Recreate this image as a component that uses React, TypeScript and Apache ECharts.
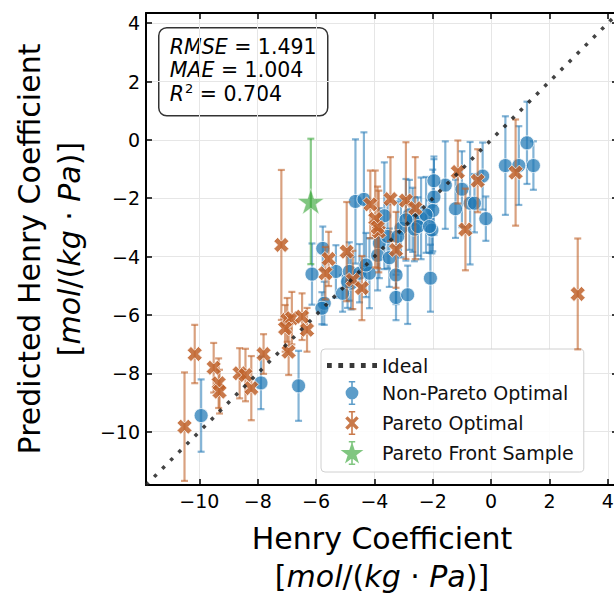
import React, { useEffect, useRef } from 'react';
import * as echarts from 'echarts';

// ---------- data ----------
const nonParetoX = [1.23, 0.49, 0.95, 1.45, -1.57, -1.96, -1.0, -0.29, -1.22, -0.72, -0.57, -0.18, -1.96, -2.0, -2.03, -2.08, -4.65, -4.36, -3.66, -2.8, -2.69, -2.4, -2.23, -3.09, -2.63, -3.83, -3.89, -3.49, -5.77, -6.14, -5.32, -4.86, -4.8, -4.51, -4.17, -4.29, -3.26, -3.26, -2.86, -5.09, -5.72, -5.8, -9.94, -7.89, -6.6, -3.55, -3.2, -2.92, -2.51, -2.11, -4.92];
const nonParetoY = [-0.1, -0.88, -0.88, -0.88, -1.55, -1.4, -1.69, -1.24, -2.36, -2.17, -2.17, -2.7, -1.96, -2.42, -3.09, -4.74, -2.11, -2.04, -2.6, -2.57, -2.74, -2.69, -2.57, -3.03, -3.06, -3.54, -3.96, -4.04, -3.72, -4.6, -4.51, -4.51, -4.91, -4.57, -4.57, -4.29, -4.63, -5.4, -5.31, -5.26, -5.6, -5.77, -9.45, -8.33, -8.43, -3.31, -3.31, -2.74, -2.97, -2.97, -4.86];
const nonParetoErr = [1.41, 1.69, 1.35, 0.83, 1.5, 0.83, 1.3, 1.15, 1.0, 2.1, 1.0, 0.76, 1.3, 1.4, 0.8, 1.15, 2.13, 2.3, 1.83, 1.2, 1.1, 1.4, 1.3, 1.0, 1.1, 1.2, 1.2, 1.0, 0.75, 1.05, 0.9, 1.0, 0.9, 1.0, 1.2, 1.1, 1.0, 0.78, 1.0, 0.63, 0.74, 0.55, 1.24, 0.9, 1.2, 1.1, 1.2, 1.4, 1.0, 0.9, 0.9];

const paretoX = [-10.51, -10.16, -9.51, -9.34, -9.31, -8.62, -8.42, -8.22, -7.8, -7.19, -6.99, -6.83, -7.06, -6.48, -6.31, -6.94, -4.95, -5.57, -5.68, -3.26, -4.74, -4.43, -3.85, -4.14, -3.45, -2.92, -2.6, -3.97, -3.89, -1.14, -0.46, -0.88, 0.84, 2.97];
const paretoY = [-9.83, -7.34, -7.81, -8.34, -8.63, -8.0, -8.06, -8.51, -7.34, -3.6, -6.17, -6.11, -6.46, -6.06, -6.51, -7.26, -3.83, -4.08, -4.57, -3.77, -4.8, -5.08, -3.14, -2.21, -2.03, -2.08, -2.34, -2.71, -3.0, -1.1, -1.4, -3.07, -1.12, -5.28];
const paretoErr = [1.86, 1.0, 0.85, 0.85, 0.75, 0.86, 0.9, 1.1, 0.68, 2.57, 0.75, 0.9, 0.8, 0.8, 0.75, 0.8, 1.7, 0.93, 0.9, 1.3, 1.0, 1.1, 1.4, 1.16, 1.44, 2.0, 1.75, 1.66, 1.4, 1.08, 1.08, 1.4, 1.82, 1.9];

const sampleX = [-6.18];
const sampleY = [-2.11];
const sampleErr = [2.15];

const axisMin = -11.83;
const axisMax = 4.35;
const idealX = [axisMin, axisMax];

const statNames = ['RMSE', 'MAE', 'R'];
const statValues = ['1.491', '1.004', '0.704'];

const seriesNames = ['Ideal', 'Non-Pareto Optimal', 'Pareto Optimal', 'Pareto Front Sample'];

// ---------- style ----------
const FONT = "'DejaVu Sans', sans-serif";
const BLUE = '#1f77b4';
const ORANGE = '#c0622a';
const GREEN = '#2ca02c';

const X_PATH = 'path://M2.5 0L5 2.5L7.5 0L10 2.5L7.5 5L10 7.5L7.5 10L5 7.5L2.5 10L0 7.5L2.5 5L0 2.5Z';
const STAR_PATH = 'path://M50 0L61.17 34.63L97.55 34.55L68.07 55.87L79.39 90.45L50 69L20.61 90.45L31.93 55.87L2.45 34.55L38.83 34.63Z';

const IDEAL_ICON = 'path://M0 0H4V4H0Z M9.5 0H13.5V4H9.5Z M19 0H23V4H19Z M28.5 0H32.5V4H28.5Z M38 0H42V4H38Z';
const BLUE_ICON = 'path://M9 2H11V28H9Z M6 0H14V2H6Z M6 28H14V30H6Z M2 15a8 8 0 1 1 16 0a8 8 0 1 1 -16 0Z';
const ORANGE_ICON = 'path://M9 2H11V28H9Z M6 0H14V2H6Z M6 28H14V30H6Z M4.5 6.5L10 12L15.5 6.5L18.5 9.5L13 15L18.5 20.5L15.5 23.5L10 18L4.5 23.5L1.5 20.5L7 15L1.5 9.5Z';
const GREEN_ICON = 'path://M14 2H16V28H14Z M11 0H19V2H11Z M11 28H19V30H11Z M15 1L18.35 11.39L29.27 11.37L20.42 17.76L23.82 28.14L15 21.7L6.18 28.14L9.58 17.76L0.73 11.37L11.65 11.39Z';

const fmt = (v: number) => {
  if (Math.abs(v - Math.round(v)) > 1e-6 || Math.round(v) % 2 !== 0) return '';
  const r = Math.round(v);
  return r < 0 ? '\u2212' + Math.abs(r) : String(r);
};

const errorBar = (color: string, opacity: number) => (params: any, api: any) => {
  const x = api.value(0);
  const y = api.value(1);
  const e = api.value(2);
  const p1 = api.coord([x, y + e]);
  const p2 = api.coord([x, y - e]);
  const cap = 3.5;
  const style = { stroke: color, lineWidth: 2.2, opacity };
  return {
    type: 'group',
    children: [
      { type: 'line', shape: { x1: p1[0], y1: p1[1], x2: p2[0], y2: p2[1] }, style },
      { type: 'line', shape: { x1: p1[0] - cap, y1: p1[1], x2: p1[0] + cap, y2: p1[1] }, style },
      { type: 'line', shape: { x1: p2[0] - cap, y1: p2[1], x2: p2[0] + cap, y2: p2[1] }, style },
    ],
  };
};

const richY = {
  t: { fontSize: 30, fontFamily: FONT, color: '#000', lineHeight: 40 },
  i: { fontSize: 30, fontFamily: FONT, fontStyle: 'italic', color: '#000', lineHeight: 40 },
};
const richX = {
  a: { fontSize: 30, fontFamily: FONT, color: '#000', lineHeight: 44 },
  t: { fontSize: 30, fontFamily: FONT, color: '#000', lineHeight: 32 },
  i: { fontSize: 30, fontFamily: FONT, fontStyle: 'italic', color: '#000', lineHeight: 32 },
};

export default function App() {
  const ref = useRef<HTMLDivElement>(null);

  useEffect(() => {
    if (!ref.current) return;
    const chart = echarts.init(ref.current, undefined, { renderer: 'svg' });

    const blueData = nonParetoX.map((x, i) => [x, nonParetoY[i], nonParetoErr[i]]);
    const orangeData = paretoX.map((x, i) => [x, paretoY[i], paretoErr[i]]);
    const greenData = sampleX.map((x, i) => [x, sampleY[i], sampleErr[i]]);
    const idealData = idealX.map((v) => [v, v]);

    const baseAxis = {
      type: 'value',
      min: axisMin,
      max: axisMax,
      splitNumber: 8,
      minInterval: 2,
      maxInterval: 2,
    };

    const statsText = statNames
      .map((n, i) => (n === 'R' ? `{i|R}{s|2}{n| = ${statValues[i]}}` : `{i|${n}}{n| = ${statValues[i]}}`))
      .join('\n');

    const option: any = {
      animation: false,
      backgroundColor: '#fff',
      grid: { left: 146, top: 13, width: 472, height: 472, containLabel: false, outerBoundsMode: 'none' },
      xAxis: [
        {
          ...baseAxis,
          position: 'bottom',
          axisLine: { show: true, onZero: false, lineStyle: { color: '#000', width: 2 } },
          axisTick: { show: true, inside: true, length: 6, lineStyle: { color: '#000', width: 1.5 } },
          axisLabel: { show: true, margin: 6, formatter: fmt, showMinLabel: false, showMaxLabel: false, fontSize: 19, fontFamily: FONT, color: '#000' },
          splitLine: { show: true, lineStyle: { color: '#e6e6e6', width: 1 } },
          name: '{a|Henry Coefficient}\n{t|[}{i|mol}{t|/(}{i|kg}{t| · }{i|Pa}{t|)]}',
          nameLocation: 'middle',
          nameGap: 31,
          nameTextStyle: { rich: richX, fontSize: 30, fontFamily: FONT },
        },
        {
          ...baseAxis,
          position: 'top',
          axisLine: { show: true, onZero: false, lineStyle: { color: '#000', width: 2 } },
          axisTick: { show: true, inside: true, length: 6, lineStyle: { color: '#000', width: 1.5 } },
          axisLabel: { show: false },
          splitLine: { show: false },
        },
      ],
      yAxis: [
        {
          ...baseAxis,
          position: 'left',
          axisLine: { show: true, onZero: false, lineStyle: { color: '#000', width: 2 } },
          axisTick: { show: true, inside: true, length: 6, lineStyle: { color: '#000', width: 1.5 } },
          axisLabel: { show: true, margin: 6, formatter: fmt, showMinLabel: false, showMaxLabel: false, fontSize: 19, fontFamily: FONT, color: '#000' },
          splitLine: { show: true, lineStyle: { color: '#e6e6e6', width: 1 } },
          name: '{t|Predicted Henry Coefficient}\n{t|[}{i|mol}{t|/(}{i|kg}{t| · }{i|Pa}{t|)]}',
          nameLocation: 'middle',
          nameGap: 54,
          nameTextStyle: { rich: richY, fontSize: 30, lineHeight: 40, fontFamily: FONT },
        },
        {
          ...baseAxis,
          position: 'right',
          axisLine: { show: true, onZero: false, lineStyle: { color: '#000', width: 2 } },
          axisTick: { show: true, inside: true, length: 6, lineStyle: { color: '#000', width: 1.5 } },
          axisLabel: { show: false },
          splitLine: { show: false },
        },
      ],
      legend: {
        orient: 'vertical',
        left: 321,
        top: 349,
        itemWidth: 50,
        itemHeight: 24,
        itemGap: 6,
        padding: [7, 10, 7, 6],
        backgroundColor: 'rgba(255,255,255,0.85)',
        borderColor: '#d0d0d0',
        borderWidth: 1,
        borderRadius: 4,
        selectedMode: false,
        itemStyle: { borderWidth: 0 },
        textStyle: { fontSize: 19, fontFamily: FONT, color: '#111' },
        data: [
          { name: seriesNames[0], icon: IDEAL_ICON, itemStyle: { color: '#222', opacity: 0.9, borderWidth: 0 } },
          { name: seriesNames[1], icon: BLUE_ICON },
          { name: seriesNames[2], icon: ORANGE_ICON },
          { name: seriesNames[3], icon: GREEN_ICON },
        ],
      },
      graphic: [
        {
          type: 'group',
          left: 158,
          top: 27,
          z: 100,
          children: [
            { type: 'rect', shape: { x: 0, y: 0, width: 169, height: 88, r: 8 }, style: { fill: '#fff', stroke: '#333', lineWidth: 1.5 } },
            {
              type: 'text',
              x: 11,
              y: 7,
              style: {
                text: statsText,
                fill: '#000',
                fontSize: 20.5,
                fontFamily: FONT,
                lineHeight: 23.5,
                rich: {
                  i: { fontSize: 20.5, fontFamily: FONT, fontStyle: 'italic', lineHeight: 23.5 },
                  n: { fontSize: 20.5, fontFamily: FONT, lineHeight: 23.5 },
                  s: { fontSize: 13, fontFamily: FONT, lineHeight: 23.5, verticalAlign: 'top', padding: [0, 0, 8, 1] },
                },
              },
            },
          ],
        },
      ],
      series: [
        {
          name: 'npErr',
          type: 'custom',
          renderItem: errorBar(BLUE, 0.55),
          data: blueData,
          encode: { x: 0, y: 1 },
          silent: true,
          z: 2,
        },
        {
          name: seriesNames[1],
          type: 'scatter',
          data: blueData.map((d) => [d[0], d[1]]),
          symbol: 'circle',
          symbolSize: 14,
          itemStyle: { color: BLUE, opacity: 0.72, borderColor: '#fff', borderWidth: 1 },
          z: 3,
        },
        {
          name: 'pErr',
          type: 'custom',
          renderItem: errorBar(ORANGE, 0.6),
          data: orangeData,
          encode: { x: 0, y: 1 },
          silent: true,
          z: 4,
        },
        {
          name: seriesNames[2],
          type: 'scatter',
          data: orangeData.map((d) => [d[0], d[1]]),
          symbol: X_PATH,
          symbolKeepAspect: true,
          symbolSize: 15,
          itemStyle: { color: ORANGE, opacity: 0.85, borderColor: '#fff', borderWidth: 0.8 },
          z: 5,
        },
        {
          name: 'sErr',
          type: 'custom',
          renderItem: errorBar(GREEN, 0.55),
          data: greenData,
          encode: { x: 0, y: 1 },
          silent: true,
          z: 6,
        },
        {
          name: seriesNames[3],
          type: 'scatter',
          data: greenData.map((d) => [d[0], d[1]]),
          symbol: STAR_PATH,
          symbolKeepAspect: true,
          symbolSize: 27,
          itemStyle: { color: GREEN, opacity: 0.6, borderColor: '#fff', borderWidth: 0.8 },
          z: 7,
        },
        {
          name: seriesNames[0],
          type: 'line',
          data: idealData,
          symbol: 'none',
          showSymbol: false,
          silent: true,
          lineStyle: { color: '#222', width: 3.5, type: [3.5, 8], cap: 'butt', opacity: 0.85 },
          itemStyle: { color: '#222' },
          z: 8,
        },
      ],
    };

    chart.setOption(option);
    return () => chart.dispose();
  }, []);

  return (
    <div
      ref={ref}
      style={{ position: 'fixed', left: 0, top: 0, width: 614, height: 593, background: '#fff' }}
    />
  );
}
